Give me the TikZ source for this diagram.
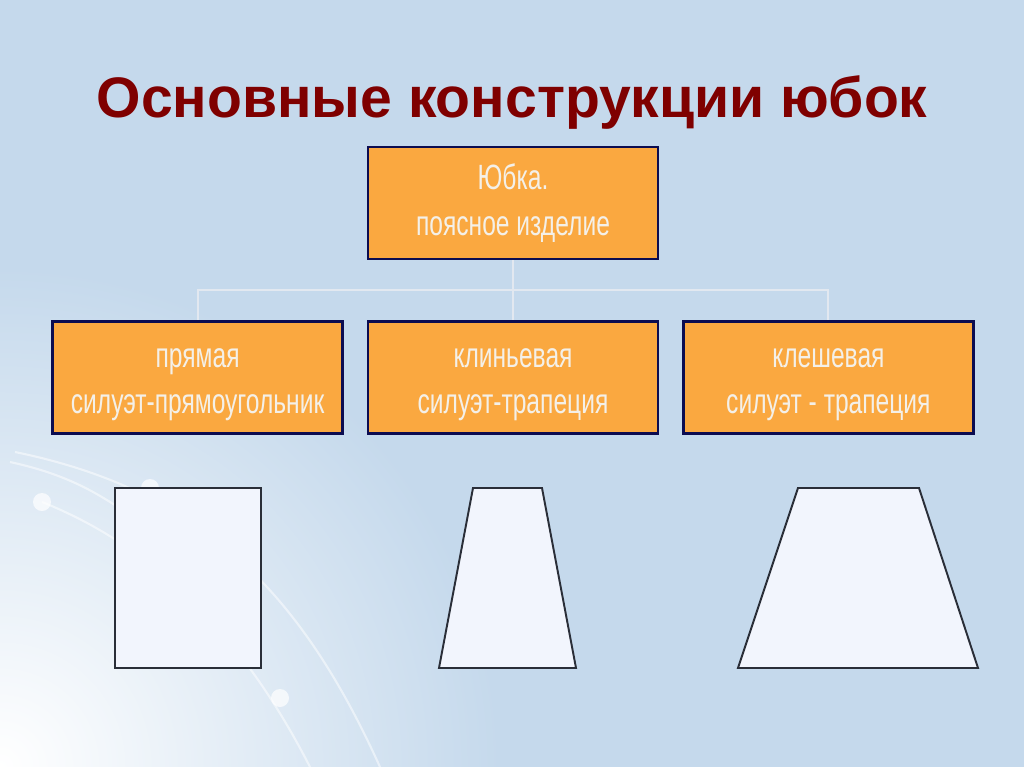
\documentclass[tikz,border=0pt]{standalone}
\usepackage{fontspec}
\setmainfont{Liberation Sans}
\newfontfamily\boxfont[FakeStretch=0.7]{Liberation Sans}
\usetikzlibrary{positioning}

\definecolor{slideblue}{HTML}{C5D9EC}
\definecolor{titlered}{HTML}{7F0000}
\definecolor{boxorange}{HTML}{FAA840}
\definecolor{boxline}{HTML}{0C0C50}
\definecolor{boxtext}{HTML}{F4F0E8}
\definecolor{shapefill}{HTML}{F2F5FD}
\definecolor{shapeline}{HTML}{2A2E38}
\definecolor{linkgray}{HTML}{E2E8F0}

\newcommand{\lowline}{\rule{0pt}{19pt}}

\tikzset{
  kind/.style={draw=boxline, line width=1.4pt, fill=boxorange, text=boxtext,
    minimum width=5.8cm, minimum height=2.24cm, align=center,
    font=\boxfont\fontsize{20}{26}\selectfont},
  link/.style={draw=linkgray, line width=1.2pt},
  cut/.style={draw=shapeline, line width=1.1pt, fill=shapefill},
  swirl/.style={white, line width=1.2pt, opacity=0.5}
}

\begin{document}
\begin{tikzpicture}[x=0.02cm, y=-0.02cm]
	% background of the slide
	\fill[slideblue] (0,0) rectangle (1024,767);
	\begin{scope}
		\clip (0,0) rectangle (1024,767);
		\shade[inner color=white, outer color=slideblue] (0,767) circle (500);
		\draw[swirl] (15,452) .. controls (200,490) and (300,590) .. (380,767);
		\draw[swirl] (10,462) .. controls (70,475) and (100,495) .. (130,515);
		\draw[swirl] (42,502) .. controls (150,545) and (240,630) .. (310,767);
		\fill[white, opacity=0.7] (42,502) circle (9);
		\fill[white, opacity=0.7] (150,488) circle (9);
		\fill[white, opacity=0.7] (280,698) circle (9);
	\end{scope}

	\node[anchor=base, text=titlered, font=\bfseries\fontsize{32.5}{40}\selectfont] (title) at (512,117) {Основные конструкции юбок};

	\node[kind] (skirt) at (513,203) {Юбка.\\поясное изделие};
	\node[kind, below=1.2cm of skirt] (wedge) {\lowline клиньевая\\силуэт-трапеция};
	\node[kind, left=0.46cm of wedge] (straight) {\lowline прямая\\силуэт-прямоугольник};
	\node[kind, right=0.46cm of wedge] (flared) {\lowline клешевая\\силуэт - трапеция};

	\coordinate (bus) at (513,290);
	\draw[link] (skirt.south) -- (bus) -| (straight.north);
	\draw[link] (bus) -| (flared.north);
	\draw[link] (bus) -- (wedge.north);

	% silhouettes
	\draw[cut] (115,488) rectangle (261,668);
	\draw[cut] (473,488) -- (542,488) -- (576,668) -- (439,668) -- cycle;
	\draw[cut] (798,488) -- (919,488) -- (978,668) -- (738,668) -- cycle;
\end{tikzpicture}
\end{document}
